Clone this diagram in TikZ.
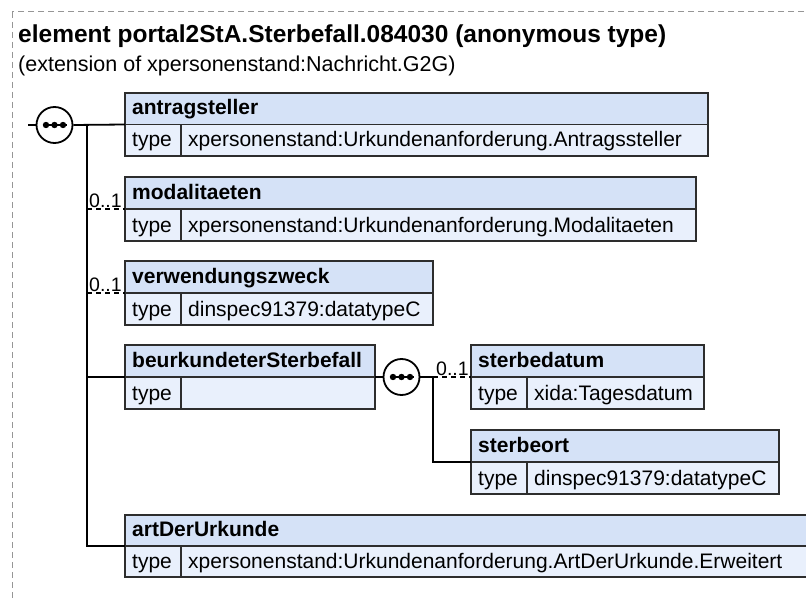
\documentclass[tikz,border=0pt]{standalone}
\usepackage{fontspec}
\setmainfont{Liberation Sans}
\usepackage{tikz}
\definecolor{hdrblue}{RGB}{213,226,247}
\definecolor{rowblue}{RGB}{233,240,252}
\definecolor{frameg}{RGB}{150,150,150}
\definecolor{edgeg}{RGB}{45,45,45}

\tikzset{
  boxline/.style={edgeg, line width=1.6pt},
  conn/.style={black, line width=1.8pt},
  optconn/.style={conn, dash pattern=on 5pt off 4pt},
  elname/.style={anchor=base west, inner sep=0pt, font=\fontsize{21}{24}\selectfont\bfseries},
  eltext/.style={anchor=base west, inner sep=0pt, font=\fontsize{21}{24}\selectfont},
  occurs/.style={anchor=base west, inner sep=0pt, font=\fontsize{19.5}{22}\selectfont},
  seqnode/.style={circle, draw=black, fill=white, line width=1.8pt,
    minimum size=36pt, inner sep=0pt}
}

% id, x1, y1, x2, ymid, y2, xdiv, name, type
\newcommand{\elbox}[9]{%
  \fill[hdrblue] (#2,#3) rectangle (#4,#5);
  \fill[rowblue] (#2,#5) rectangle (#4,#6);
  \draw[boxline] (#2,#3) rectangle (#4,#6);
  \draw[boxline] (#2,#5) -- (#4,#5);
  \draw[boxline] (#7,#5) -- (#7,#6);
  \coordinate (#1-w) at (#2,#5);
  \coordinate (#1-e) at (#4,#5);
  \node[elname] (#1-name) at ({#2+7},{#5-9.5}) {#8};
  \node[eltext] (#1-type) at ({#2+7},{#6-9}) {type};
  \node[eltext] (#1-val) at ({#7+7},{#6-9}) {#9};
}

% dots of a sequence compositor
\newcommand{\seqdots}[1]{%
  \draw[line width=1.6pt] ([xshift=-12pt]#1.center) -- ([xshift=12pt]#1.center);
  \fill ([xshift=-8.5pt]#1.center) circle (3.2pt);
  \fill (#1.center) circle (3.2pt);
  \fill ([xshift=8.5pt]#1.center) circle (3.2pt);
}

\begin{document}
\begin{tikzpicture}[x=1pt, y=-1pt]
  \useasboundingbox (0,0) rectangle (806,599);
  % frame and heading
  \draw[frameg, line width=1pt, dash pattern=on 6pt off 4pt] (12,12) rectangle (830,620);
  \node[anchor=base west, inner sep=0pt, font=\fontsize{24.5}{28}\selectfont\bfseries]
    (title) at (18,43) {element portal2StA.Sterbefall.084030 (anonymous type)};
  \node[anchor=base west, inner sep=0pt, font=\fontsize{21.5}{25}\selectfont]
    (subtitle) at (18,72) {(extension of xpersonenstand:Nachricht.G2G)};

  % element boxes
  \elbox{antrag}{125}{93}{708}{124.5}{156}{181}{antragsteller}{xpersonenstand:Urkundenanforderung.Antragssteller}
  \elbox{modal}{125}{177}{696}{209}{241}{181}{modalitaeten}{xpersonenstand:Urkundenanforderung.Modalitaeten}
  \elbox{verw}{125}{261}{433}{293}{325}{181}{verwendungszweck}{dinspec91379:datatypeC}
  \elbox{beurk}{125}{345}{375}{377}{409}{181}{beurkundeterSterbefall}{}
  \elbox{datum}{471}{345}{704}{377}{409}{527}{sterbedatum}{xida:Tagesdatum}
  \elbox{ort}{471}{430}{779}{462}{494}{527}{sterbeort}{dinspec91379:datatypeC}
  \elbox{art}{125}{515}{820}{546}{577}{181}{artDerUrkunde}{xpersonenstand:Urkundenanforderung.ArtDerUrkunde.Erweitert}

  % sequence of the element
  \coordinate (stub) at (28,125);
  \coordinate (spine) at (87,125);
  \draw[conn] (stub) -- (54.5,125);
  \node[seqnode] (seq) at (54.5,125) {};
  \seqdots{seq}
  \draw[conn] (seq.east) -- (antrag-w);
  \draw[conn] (spine) |- (art-w);
  \draw[optconn] (spine |- modal-w) -- (modal-w);
  \draw[optconn] (spine |- verw-w) -- (verw-w);
  \draw[conn] (spine |- beurk-w) -- (beurk-w);
  \node[occurs] (modal-occ) at (89,207) {0..1};
  \node[occurs] (verw-occ) at (89,291) {0..1};

  % sequence of beurkundeterSterbefall
  \node[seqnode] (seqb) at (401.5,377) {};
  \seqdots{seqb}
  \coordinate (spineb) at (433,377);
  \draw[conn] (beurk-e) -- (seqb.west);
  \draw[conn] (seqb.east) -- (spineb);
  \draw[conn] (spineb) |- (ort-w);
  \draw[optconn] (spineb) -- (datum-w);
  \node[occurs] (datum-occ) at (436,375) {0..1};
\end{tikzpicture}
\end{document}
